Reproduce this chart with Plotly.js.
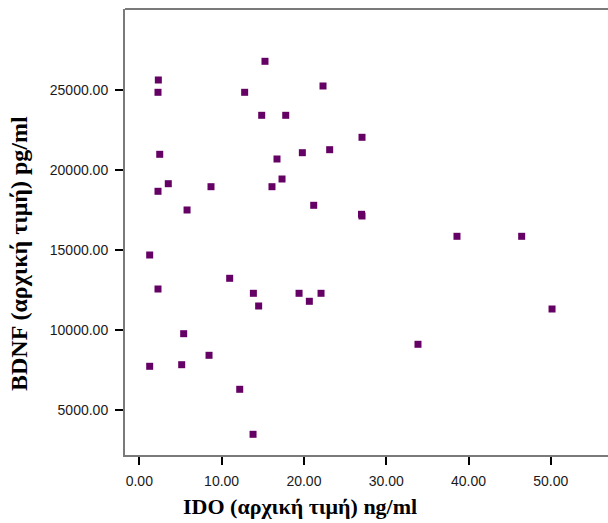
<!DOCTYPE html>
<html>
<head>
<meta charset="utf-8">
<script src="https://cdn.plot.ly/plotly-3.0.1.min.js"></script>
<style>html,body{margin:0;padding:0;background:#fff;}#chart{width:608px;height:523px;}</style>
</head>
<body>
<div id="chart"></div>
<script>
// IDO (baseline) ng/ml
var ido = [2.31, 2.27, 15.27, 12.8, 22.32, 14.87, 17.79, 27.06, 2.48, 19.81,
           23.13, 16.73, 3.52, 2.27, 8.71, 16.12, 17.34, 21.19, 27.0, 27.06,
           5.8, 38.6, 46.46, 1.26, 10.98, 2.27, 13.86, 19.41, 22.08, 20.66,
           14.5, 50.15, 33.86, 5.39, 8.47, 1.26, 5.15, 12.2, 13.82];
// BDNF (baseline) pg/ml
var bdnf = [25644, 24875, 26812, 24875, 25269, 23437, 23437, 22062, 21000, 21100,
            21288, 20706, 19162, 18687, 18975, 18975, 19456, 17812, 17250, 17144,
            17519, 15875, 15875, 14706, 13250, 12581, 12312, 12312, 12312, 11812,
            11519, 11331, 9125, 9787, 8437, 7750, 7850, 6312, 3500];

var xTicks = [0, 10, 20, 30, 40, 50];
var yTicks = [5000, 10000, 15000, 20000, 25000];
var xTitle = 'IDO (αρχική τιμή) ng/ml';
var yTitle = 'BDNF (αρχική τιμή) pg/ml';

var trace = {
  x: ido, y: bdnf, type: 'scatter', mode: 'markers',
  marker: {symbol: 'square', size: 7, color: '#650065', line: {width: 0}},
  hoverinfo: 'skip'
};

var tickFont = {family: 'Liberation Sans, Arial, sans-serif', size: 14, color: '#1a1a1a'};
var xTitleFont = {family: 'Liberation Serif, Times New Roman, serif', size: 22, color: '#000', weight: 'bold'};
var yTitleFont = {family: 'Liberation Serif, Times New Roman, serif', size: 24, color: '#000', weight: 'bold'};

var layout = {
  width: 608, height: 523,
  margin: {l: 125, r: 0, t: 9, b: 68, pad: 0},
  paper_bgcolor: '#fff', plot_bgcolor: '#fff',
  showlegend: false,
  xaxis: {
    range: [-1.74, 56.95], tickvals: xTicks, tickformat: '.2f',
    showgrid: false, zeroline: false,
    showline: true, linecolor: '#7a7a7a', linewidth: 2,
    ticks: 'outside', ticklen: 8, tickwidth: 2, tickcolor: '#000',
    tickfont: tickFont, ticklabelstandoff: 4
  },
  yaxis: {
    range: [2206, 30081], tickvals: yTicks, tickformat: '.2f',
    showgrid: false, zeroline: false,
    showline: true, linecolor: '#7a7a7a', linewidth: 2,
    ticks: 'outside', ticklen: 8, tickwidth: 2, tickcolor: '#000',
    tickfont: tickFont, ticklabelstandoff: 4
  },
  shapes: [{type: 'line', xref: 'paper', yref: 'paper', x0: 0, x1: 1, y0: 1, y1: 1,
            line: {color: '#7a7a7a', width: 2}}],
  annotations: [
    {text: xTitle, xref: 'paper', yref: 'paper', showarrow: false,
     x: (300 - 125) / 483, y: -(506 - 455) / 446, xanchor: 'center', yanchor: 'middle',
     font: xTitleFont},
    {text: yTitle, xref: 'paper', yref: 'paper', showarrow: false, textangle: -90,
     x: -(125 - 19) / 483, y: (455 - 254) / 446, xanchor: 'center', yanchor: 'middle',
     font: yTitleFont}
  ]
};

Plotly.newPlot('chart', [trace], layout, {displayModeBar: false, staticPlot: true});
</script>
</body>
</html>
